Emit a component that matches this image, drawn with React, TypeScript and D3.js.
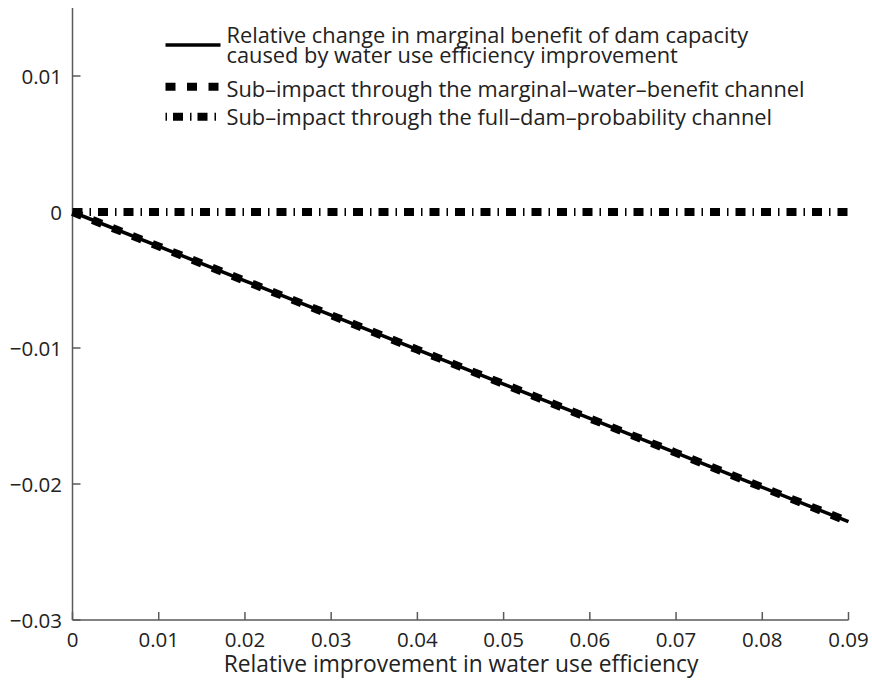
import React from "react";
import * as d3 from "d3";

const xValues = [0, 0.01, 0.02, 0.03, 0.04, 0.05, 0.06, 0.07, 0.08, 0.09];
const totalChange = [0, -0.00253, -0.00506, -0.00759, -0.01012, -0.01265, -0.01518, -0.01771, -0.02024, -0.02277];
const marginalWaterChannel = [0, -0.00253, -0.00506, -0.00759, -0.01012, -0.01265, -0.01518, -0.01771, -0.02024, -0.02277];
const fullDamChannel = [0, 0, 0, 0, 0, 0, 0, 0, 0, 0];

const xTicks = [0, 0.01, 0.02, 0.03, 0.04, 0.05, 0.06, 0.07, 0.08, 0.09];
const yTicks = [-0.03, -0.02, -0.01, 0, 0.01];

const legendLabels = [
  ["Relative change in marginal benefit of dam capacity", "caused by water use efficiency improvement"],
  ["Sub\u2013impact through the marginal\u2013water\u2013benefit channel"],
  ["Sub\u2013impact through the full\u2013dam\u2013probability channel"],
];
const xLabel = "Relative improvement in water use efficiency";

const W = 872;
const H = 681;
const FONT = "'Open Sans', Lato, sans-serif";

export default function App() {
  const x = d3.scaleLinear().domain([0, 0.09]).range([72.5, 848.5]);
  const y = d3.scaleLinear().domain([-0.03, 0.015]).range([620, 8]);
  const line = d3
    .line<[number, number]>()
    .x((d) => x(d[0]))
    .y((d) => y(d[1]));
  const ptsTotal = xValues.map((v, i) => [v, totalChange[i]] as [number, number]);
  const ptsMarg = xValues.map((v, i) => [v, marginalWaterChannel[i]] as [number, number]);
  const ptsFull = xValues.map((v, i) => [v, fullDamChannel[i]] as [number, number]);
  const axisColor = "#5a5a5a";
  const fmt = (v: number) => (v === 0 ? "0" : (v < 0 ? "\u2212" : "") + Math.abs(v).toString());

  return (
    <svg
      width={W}
      height={H}
      style={{ position: "absolute", left: 0, top: 0, background: "#fff" }}
      fontFamily={FONT}
    >
      {/* axes */}
      <line x1={x(0)} x2={x(0.09)} y1={620} y2={620} stroke={axisColor} strokeWidth={1.5} />
      <line x1={72.5} x2={72.5} y1={8} y2={620} stroke={axisColor} strokeWidth={1.5} />
      {xTicks.map((t) => (
        <g key={"xt" + t}>
          <line x1={x(t)} x2={x(t)} y1={620} y2={612} stroke={axisColor} strokeWidth={1.5} />
          <text x={x(t)} y={647} textAnchor="middle" fontSize={20.5} fill="#222">
            {fmt(t)}
          </text>
        </g>
      ))}
      {yTicks.map((t) => (
        <g key={"yt" + t}>
          <line x1={72.5} x2={80.5} y1={y(t)} y2={y(t)} stroke={axisColor} strokeWidth={1.5} />
          <text x={62} y={y(t) + 7.5} textAnchor="end" fontSize={20.5} fill="#222">
            {fmt(t)}
          </text>
        </g>
      ))}
      <text x={461} y={672} textAnchor="middle" fontSize={22.8} fill="#222">
        {xLabel}
      </text>

      {/* data */}
      <path d={line(ptsTotal) || ""} fill="none" stroke="#000" strokeWidth={3.5} />
      <path d={line(ptsMarg) || ""} fill="none" stroke="#000" strokeWidth={8} strokeDasharray="10 11.5" />
      <path d={line(ptsFull) || ""} fill="none" stroke="#000" strokeWidth={8} strokeDasharray="10 7 1.5 7" />

      {/* legend */}
      <line x1={165.5} x2={220.5} y1={45} y2={45} stroke="#000" strokeWidth={3.5} />
      <line x1={165.5} x2={220.5} y1={86.7} y2={86.7} stroke="#000" strokeWidth={8} strokeDasharray="10 11.5" />
      <line x1={165.5} x2={220.5} y1={116.7} y2={116.7} stroke="#000" strokeWidth={8} strokeDasharray="1.5 6 10 7" />
      <text x={226.5} y={42.5} fontSize={21.8} fill="#222">{legendLabels[0][0]}</text>
      <text x={226.5} y={63} fontSize={21.8} fill="#222">{legendLabels[0][1]}</text>
      <text x={226.5} y={96.5} fontSize={21.8} fill="#222">{legendLabels[1][0]}</text>
      <text x={226.5} y={125} fontSize={21.8} fill="#222">{legendLabels[2][0]}</text>
    </svg>
  );
}
